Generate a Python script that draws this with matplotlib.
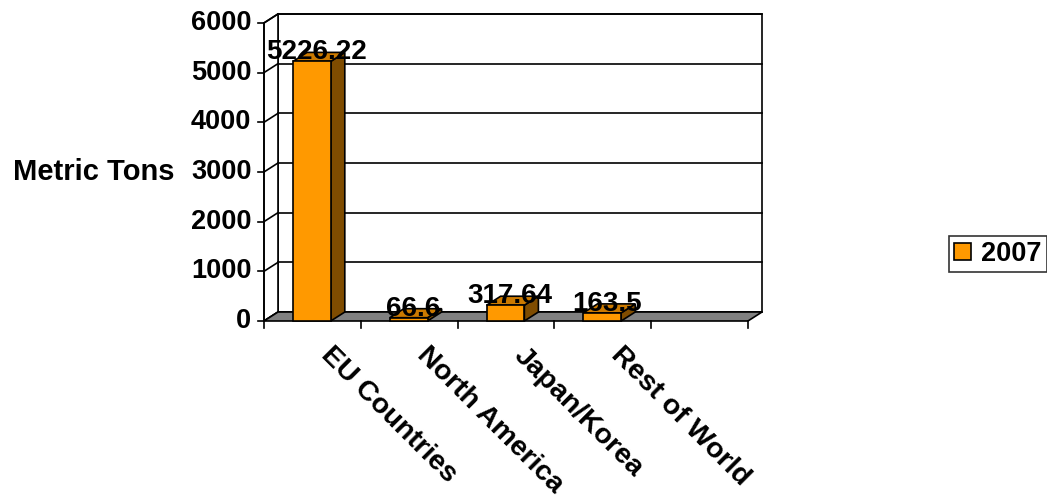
import matplotlib
matplotlib.use('Agg')
import matplotlib.pyplot as plt
from matplotlib.patches import Polygon, Rectangle

categories = ["EU Countries", "North America", "Japan/Korea", "Rest of World", ""]
values_2007 = [5226.22, 66.6, 317.64, 163.5]
series_name = "2007"
y_ticks = [0, 1000, 2000, 3000, 4000, 5000, 6000]
y_label = "Metric Tons"

FRONT = "#FF9900"
TOP = "#CC7A00"
SIDE = "#7F4C00"
FLOOR = "#808080"
LW = 1.2

plt.rcParams['font.family'] = ['Liberation Sans', 'DejaVu Sans']
plt.rcParams['font.weight'] = 'bold'

fig = plt.figure(figsize=(10.47, 4.96), dpi=100)
ax = fig.add_axes([0, 0, 1, 1])
# one axes over the whole figure, category units across, metric tons up
ax.set_xlim(-2.727, 8.089)
ax.set_ylim(-3523, 6462)
ax.axis('off')

n = len(categories)
ymax = y_ticks[-1]
dx, dy = 0.145, 181  # 3d depth offset

# walls and floor
ax.add_patch(Rectangle((dx, dy), n, ymax, facecolor="white", edgecolor="black", lw=LW, zorder=1))
ax.add_patch(Polygon([(0, 0), (dx, dy), (dx, ymax + dy), (0, ymax)], closed=True,
                     facecolor="white", edgecolor="black", lw=LW, zorder=1))
for v in y_ticks:
    ax.plot([dx, n + dx], [v + dy, v + dy], color="black", lw=LW, zorder=2)
    ax.plot([0, dx], [v, v + dy], color="black", lw=LW, zorder=2)
    ax.plot([-0.062, 0], [v, v], color="black", lw=LW, zorder=2)
    ax.text(-0.13, v, str(v), ha="right", va="center", fontsize=19.5, zorder=5)
ax.add_patch(Polygon([(0, 0), (n, 0), (n + dx, dy), (dx, dy)], closed=True,
                     facecolor=FLOOR, edgecolor="black", lw=LW, zorder=3))
ax.plot([0, 0], [0, ymax], color="black", lw=LW, zorder=3)

# category ticks and labels
for i in range(n + 1):
    ax.plot([i, i], [0, -141], color="black", lw=LW, zorder=3)
for i, name in enumerate(categories):
    ax.text(i + 0.72, -430, name, rotation=-45, rotation_mode="anchor",
            ha="left", va="top", fontsize=20.5, zorder=5)

# bars
front_patch = None
for i, v in enumerate(values_2007):
    x0, x1 = i + 0.30, i + 0.69
    ax.add_patch(Polygon([(x1, 0), (x1 + dx, dy), (x1 + dx, v + dy), (x1, v)], closed=True,
                         facecolor=SIDE, edgecolor="black", lw=LW, zorder=4))
    ax.add_patch(Polygon([(x0, v), (x1, v), (x1 + dx, v + dy), (x0 + dx, v + dy)], closed=True,
                         facecolor=TOP, edgecolor="black", lw=LW, zorder=4))
    p = Rectangle((x0, 0), x1 - x0, v, facecolor=FRONT, edgecolor="black", lw=LW, zorder=4)
    ax.add_patch(p)
    if front_patch is None:
        front_patch = p
    ax.text(i + 0.5 + dx / 2 - 0.03, v + dy, f"{v:g}", ha="center", va="center", fontsize=20, zorder=6)

ax.text(-0.92, 3000, y_label, ha="right", va="center", fontsize=21)

leg = ax.legend([front_patch], [series_name], loc="center left",
                bbox_to_anchor=(949 / 1047, 1 - 254 / 496), bbox_transform=fig.transFigure,
                fontsize=19.5, frameon=True, fancybox=False, handlelength=0.6, handleheight=0.6,
                handletextpad=0.4, borderpad=0.2, borderaxespad=0)
leg.get_frame().set_edgecolor("black")
leg.get_frame().set_linewidth(LW)

fig.savefig("out.png", dpi=100)
